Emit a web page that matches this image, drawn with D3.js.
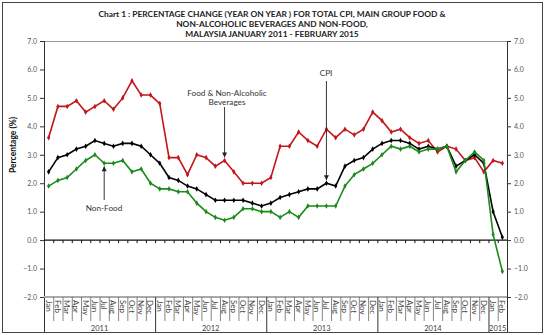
<!DOCTYPE html>
<html>
<head>
<meta charset="utf-8">
<script src="https://cdn.jsdelivr.net/npm/d3@7"></script>
<style>
  body { margin: 0; background: #fff; }
  text { font-family: "Lato", "DejaVu Sans", sans-serif; }
</style>
</head>
<body>
<div class="chart"></div>
<script>
var months = ["Jan","Feb","Mar","Apr","May","Jun","Jul","Aug","Sep","Oct","Nov","Dec"]
var years = ["2011","2012","2013","2014","2015"]
var periods = []
years.forEach(function(y){ months.forEach(function(m){ if (periods.length < 50) periods.push(m + " " + y) }) })

var cpi = [2.4,2.9,3.0,3.2,3.3,3.5,3.4,3.3,3.4,3.4,3.3,3.0,
           2.7,2.2,2.1,1.9,1.8,1.6,1.4,1.4,1.4,1.4,1.3,1.2,
           1.3,1.5,1.6,1.7,1.8,1.8,2.0,1.9,2.6,2.8,2.9,3.2,
           3.4,3.5,3.5,3.4,3.2,3.3,3.2,3.3,2.6,2.8,3.0,2.7,
           1.0,0.1]
var food = [3.6,4.7,4.7,4.9,4.5,4.7,4.9,4.6,5.0,5.6,5.1,5.1,
            4.8,2.9,2.9,2.3,3.0,2.9,2.6,2.8,2.4,2.0,2.0,2.0,
            2.2,3.3,3.3,3.8,3.5,3.3,3.9,3.6,3.9,3.7,3.9,4.5,
            4.2,3.8,3.9,3.6,3.4,3.5,3.1,3.3,3.2,2.8,2.9,2.4,
            2.8,2.7]
var nonFood = [1.9,2.1,2.2,2.5,2.8,3.0,2.7,2.7,2.8,2.4,2.5,2.0,
               1.8,1.8,1.7,1.7,1.3,1.0,0.8,0.7,0.8,1.1,1.1,1.0,
               1.0,0.8,1.0,0.8,1.2,1.2,1.2,1.2,1.9,2.3,2.5,2.7,
               3.0,3.3,3.2,3.3,3.1,3.2,3.2,3.3,2.4,2.8,3.1,2.8,
               0.2,-1.1]
var yTicks = [-2,-1,0,1,2,3,4,5,6,7]
var titles = ["Chart 1 : PERCENTAGE CHANGE (YEAR ON YEAR ) FOR TOTAL CPI, MAIN GROUP FOOD &",
              "NON-ALCOHOLIC BEVERAGES AND NON-FOOD,",
              "MALAYSIA JANUARY 2011 - FEBRUARY 2015"]

var width = 545, height = 335
var plot = { left: 44, right: 507, top: 41, bottom: 297 }

var svg = d3.select(".chart").append("svg")
            .attr("width", width)
            .attr("height", height)

svg.append("rect")
   .attr("x", 2.5).attr("y", 2.5)
   .attr("width", width - 5).attr("height", height - 5)
   .attr("fill", "white").attr("stroke", "#444").attr("stroke-width", 1)

var x = d3.scaleBand().domain(periods).range([plot.left, plot.right]).padding(0)
var y = d3.scaleLinear().domain([-2, 7]).range([plot.bottom, plot.top])
var cx = function(i){ return x(periods[i]) + x.bandwidth() / 2 }

// title
titles.forEach(function(t, i){
  svg.append("text")
     .text(t)
     .attr("x", 272).attr("y", 17 + i * 10)
     .attr("text-anchor", "middle")
     .style("font-size", "8.4px")
     .style("font-weight", "bold")
     .style("fill", "#222")
})

// plot top border
svg.append("line")
   .attr("x1", plot.left).attr("x2", plot.right)
   .attr("y1", plot.top + 0.5).attr("y2", plot.top + 0.5)
   .attr("stroke", "#999")

// y axes
var yAxisL = d3.axisLeft(y).tickValues(yTicks).tickFormat(d3.format(".1f")).tickSize(4)
var yAxisR = d3.axisRight(y).tickValues(yTicks).tickFormat(d3.format(".1f")).tickSize(4)
var gl = svg.append("g").attr("transform", "translate(" + plot.left + ",0)").call(yAxisL)
var gr = svg.append("g").attr("transform", "translate(" + plot.right + ",0)").call(yAxisR)
;[gl, gr].forEach(function(g){
  g.select(".domain").remove()
  g.selectAll(".tick line").attr("stroke", "#333")
  g.selectAll(".tick text")
   .style("font-size", "7px")
   .style("fill", "#555")
   .style("font-family", "Lato, 'DejaVu Sans', sans-serif")
})
gl.selectAll(".tick text").attr("x", -7)
gr.selectAll(".tick text").attr("x", 7)

// vertical frame lines reaching the bottom
;[plot.left, plot.right].forEach(function(px){
  svg.append("line")
     .attr("x1", px + 0.5).attr("x2", px + 0.5)
     .attr("y1", plot.top).attr("y2", height - 3)
     .attr("stroke", "#333")
})

// category box at -2.0
svg.append("line")
   .attr("x1", plot.left).attr("x2", plot.right)
   .attr("y1", y(-2)).attr("y2", y(-2))
   .attr("stroke", "#aaa").attr("stroke-width", 2)

periods.forEach(function(p, i){
  var bx = x(p)
  if (i > 0) {
    var yearEdge = i % 12 == 0
    svg.append("line")
       .attr("x1", bx + 0.5).attr("x2", bx + 0.5)
       .attr("y1", y(-2)).attr("y2", yearEdge ? height - 3 : y(-2) + 24)
       .attr("stroke", yearEdge ? "#333" : "#666")
       .attr("stroke-width", yearEdge ? 1 : 0.8)
  }
  svg.append("text")
     .text(p.split(" ")[0])
     .attr("transform", "translate(" + (cx(i) - 3) + "," + (y(-2) + 3) + ") rotate(90)")
     .attr("text-anchor", "start")
     .style("font-size", "8px")
     .style("fill", "#444")
})

// tick marks on the zero line
svg.append("line")
   .attr("x1", plot.left).attr("x2", plot.right)
   .attr("y1", y(0)).attr("y2", y(0))
   .attr("stroke", "#111").attr("stroke-width", 1.2)
periods.forEach(function(p, i){
  if (i == 0) return
  svg.append("line")
     .attr("x1", x(p) + 0.5).attr("x2", x(p) + 0.5)
     .attr("y1", y(0)).attr("y2", y(0) + 3)
     .attr("stroke", "#111")
})

// year labels
years.forEach(function(yr, k){
  var idx = periods.filter(function(p){ return p.indexOf(yr) > 0 }).map(function(p){ return periods.indexOf(p) })
  var x0 = x(periods[idx[0]]), x1 = x(periods[idx[idx.length - 1]]) + x.bandwidth()
  svg.append("text")
     .text(yr)
     .attr("x", (x0 + x1) / 2).attr("y", 331)
     .attr("text-anchor", "middle")
     .style("font-size", "7.5px")
     .style("fill", "#444")
})

// y title
svg.append("text")
   .text("Percentage (%)")
   .attr("transform", "translate(16,145) rotate(-90)")
   .attr("text-anchor", "middle")
   .style("font-size", "8.5px")
   .style("font-weight", "bold")
   .style("fill", "#111")

// series
var series = [
  { name: "food", values: food, color: "#c3161c" },
  { name: "cpi", values: cpi, color: "#000000" },
  { name: "nonfood", values: nonFood, color: "#1b8a1b" }
]
var line = d3.line().x(function(d, i){ return cx(i) }).y(function(d){ return y(d) })
series.forEach(function(s){
  svg.append("path")
     .attr("d", line(s.values))
     .attr("fill", "none")
     .attr("stroke", s.color)
     .attr("stroke-width", 1.6)
  svg.selectAll(".pt-" + s.name)
     .data(s.values)
     .enter().append("path")
     .attr("class", "pt-" + s.name)
     .attr("d", d3.symbol().type(d3.symbolDiamond).size(9))
     .attr("transform", function(d, i){ return "translate(" + cx(i) + "," + y(d) + ")" })
     .attr("fill", s.color)
})

// annotations
var arrowHead = function(px, py, dir){
  svg.append("path")
     .attr("d", "M" + px + "," + py + " l-2.5," + (-5 * dir) + " l5,0 Z")
     .attr("fill", "#222")
}
var notes = [
  { lines: ["Food & Non-Alcoholic", "Beverages"], idx: 19, vals: food, tx: 227, ty: 96, from: 107, dir: 1 },
  { lines: ["CPI"], idx: 30, vals: cpi, tx: 326, ty: 76, from: 81, dir: 1 },
  { lines: ["Non-Food"], idx: 6, vals: nonFood, tx: 104, ty: 211, from: 200, dir: -1 }
]
notes.forEach(function(n){
  n.lines.forEach(function(t, j){
    svg.append("text")
       .text(t)
       .attr("x", n.tx).attr("y", n.ty + j * 9)
       .attr("text-anchor", "middle")
       .style("font-size", "8.2px")
       .style("fill", "#333")
  })
  var px = cx(n.idx), py = y(n.vals[n.idx]) - 3 * n.dir
  svg.append("line")
     .attr("x1", px).attr("x2", px)
     .attr("y1", n.from).attr("y2", py)
     .attr("stroke", "#222").attr("stroke-width", 0.9)
  arrowHead(px, py, n.dir)
})
</script>
</body>
</html>
